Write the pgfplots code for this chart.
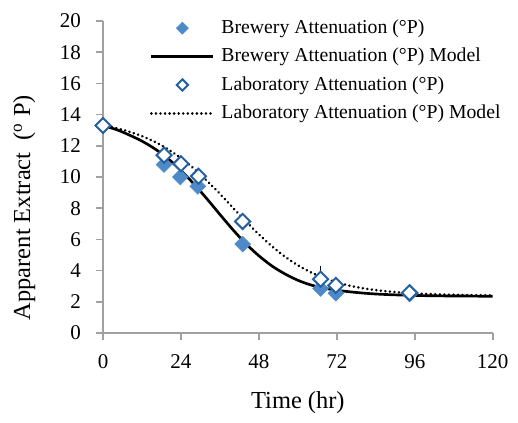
\documentclass[border=0pt]{standalone}
\usepackage{fontspec}
\setmainfont{Liberation Serif}
\usepackage{pgfplots}
\pgfplotsset{compat=1.18}

\definecolor{brewfill}{RGB}{79,138,200}
\definecolor{labedge}{RGB}{37,96,160}
\definecolor{axisgray}{RGB}{160,160,160}

\begin{document}
\begin{tikzpicture}
\path[use as bounding box] (-77.25bp,-67.5bp) rectangle (311.25bp,249.75bp);
\begin{axis}[
  scale only axis, width=292.3bp, height=234bp,
  xmin=0, xmax=120, ymin=0, ymax=20,
  axis x line=bottom, axis y line=left,
  axis line style={-, draw=axisgray, line width=1.2bp},
  tick style={draw=axisgray, line width=1.2bp},
  tick align=outside, major tick length=5bp,
  xtick={0,24,48,72,96,120}, xticklabels={0,24,48,72,96,120},
  ytick={0,2,...,20}, yticklabels={0,2,4,6,8,10,12,14,16,18,20},
  ticklabel style={font=\rmfamily\fontsize{15.8}{18}\selectfont},
  xticklabel style={yshift=-7.5bp},
  yticklabel style={xshift=-8bp},
  xlabel={Time (hr)},
  ylabel={Apparent Extract\ \ (\textsuperscript{o} P)},
  label style={font=\fontsize{18.4}{22}\selectfont},
  xlabel style={at={(rel axis cs:0.5,-0.224)}, anchor=center},
  ylabel style={at={(rel axis cs:-0.202,0.402)}, anchor=center},
  clip=false,
  legend cell align=left,
  legend image code/.code={\draw[mark repeat=2,mark phase=2,#1] plot coordinates {(0bp,0bp) (23.25bp,0bp) (46.5bp,0bp)};},
  legend style={draw=none, fill=none, at={(rel axis cs:0.1206,1.007)}, anchor=north west,
    inner sep=0pt, outer sep=0pt, row sep=7.3bp, column sep=5bp,
    font=\fontsize{14.85}{17}\selectfont,
    nodes={inner sep=0pt, text height=11bp, text depth=3bp}},
]
% legend entries
\addlegendimage{only marks, mark=square*, mark size=3.2bp, mark options={rotate=45, fill=brewfill, draw=brewfill}}
\addlegendentry{Brewery Attenuation (°P)}
\addlegendimage{black, line width=2bp}
\addlegendentry{Brewery Attenuation (°P) Model}
\addlegendimage{only marks, mark=square*, mark size=3bp, mark options={rotate=45, fill=white, draw=labedge, line width=1.5bp}}
\addlegendentry{Laboratory Attenuation (°P)}
\addlegendimage{black, line width=2.1bp, line cap=round, dash pattern=on 0.01bp off 3.4bp}
\addlegendentry{Laboratory Attenuation (°P) Model}

% brewery model
\addplot[forget plot, black, line width=2bp, smooth, mark=none] coordinates {
(0,13.28) (4,13.05) (8,12.70) (12,12.30) (16,11.80) (20,11.18) (24,10.42) (28,9.55)
(32,8.60) (36,7.60) (40,6.62) (44,5.72) (48,4.95) (52,4.30) (56,3.79) (60,3.38)
(64,3.08) (68,2.88) (72,2.74) (76,2.64) (80,2.56) (84,2.50) (88,2.46) (92,2.43)
(96,2.41) (100,2.39) (104,2.38) (108,2.37) (112,2.37) (116,2.36) (120,2.36)};

% laboratory model
\addplot[forget plot, black, line width=2.1bp, line cap=round, dash pattern=on 0.01bp off 3.4bp, smooth, mark=none] coordinates {
(0,13.31) (4,13.14) (8,12.91) (12,12.62) (16,12.25) (20,11.78) (24,11.21) (28,10.54)
(32,9.76) (36,8.92) (40,8.03) (44,7.15) (48,6.32) (52,5.56) (56,4.90) (60,4.34)
(64,3.89) (68,3.53) (72,3.25) (76,3.03) (80,2.87) (84,2.75) (88,2.66) (92,2.59)
(96,2.54) (100,2.50) (104,2.47) (108,2.45) (112,2.43) (116,2.42) (120,2.41)};

% brewery measurements
\addplot[forget plot, only marks, mark=square*, mark size=4.2bp, mark options={rotate=45, fill=brewfill, draw=brewfill}] coordinates {
(0,13.3) (18.8,10.8) (23.8,10.0) (29.2,9.4) (43,5.7) (67,2.85) (71.7,2.55) (94.4,2.5)};

% error bar on the 67 h laboratory sample
\addplot[forget plot, only marks, mark=none, black, error bars/.cd, y dir=plus, y explicit, error mark=-, error bar style={line width=1bp}, error mark options={mark size=1.5bp}] coordinates {
(67,3.45) +- (0,0.72)};

% laboratory measurements
\addplot[forget plot, only marks, mark=square*, mark size=4bp, mark options={rotate=45, fill=white, draw=labedge, line width=1.5bp}] coordinates {
(0,13.3) (18.8,11.4) (24,10.85) (29.4,10.05) (43,7.15) (67,3.45) (71.7,3.05) (94.4,2.58)};
\end{axis}
\end{tikzpicture}
\end{document}
